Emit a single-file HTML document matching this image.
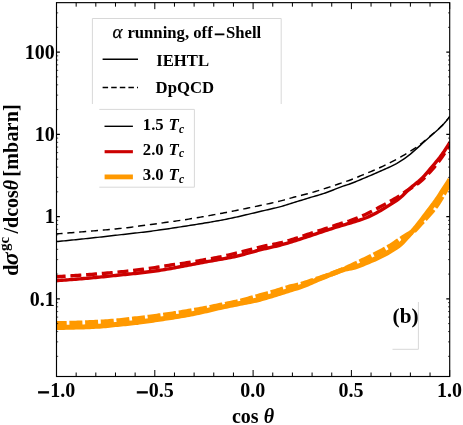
<!DOCTYPE html>
<html lang="en">
<head>
<meta charset="utf-8">
<title>Differential cross section plot (b)</title>
<style>
html,body{margin:0;padding:0;background:#fff;}
body{width:463px;height:425px;overflow:hidden;}
</style>
</head>
<body>
<svg width="463" height="425" viewBox="0 0 463 425" style="display:block">
<rect x="0" y="0" width="463" height="425" fill="#fff"/>
<g fill="none" stroke="#d8d8d8" stroke-width="1">
<path d="M92.4,104 L92.4,18.5 L281.2,18.5 L281.2,104"/>
<path d="M99.3,109.4 L194.4,109.4 L194.4,187.2 L99.3,187.2"/>
<path d="M418.4,302 L418.4,349.3 L392.5,349.3"/>
</g>
<clipPath id="c"><rect x="56.5" y="2.65" width="393.2" height="373.85"/></clipPath>
<g clip-path="url(#c)" fill="none">
<path d="M56.00,327.50 L57.98,327.48 L59.96,327.46 L61.94,327.43 L63.92,327.40 L65.90,327.36 L67.88,327.32 L69.86,327.27 L71.84,327.22 L73.82,327.17 L75.80,327.12 L77.78,327.06 L79.76,327.01 L81.74,326.95 L83.72,326.88 L85.70,326.81 L87.68,326.73 L89.66,326.65 L91.64,326.56 L93.62,326.46 L95.60,326.36 L97.58,326.25 L99.56,326.13 L101.54,325.99 L103.52,325.83 L105.50,325.65 L107.48,325.45 L109.46,325.24 L111.44,325.03 L113.42,324.82 L115.40,324.61 L117.38,324.42 L119.36,324.23 L121.34,324.05 L123.32,323.86 L125.30,323.68 L127.28,323.49 L129.26,323.30 L131.24,323.09 L133.22,322.88 L135.20,322.64 L137.18,322.40 L139.16,322.14 L141.14,321.87 L143.12,321.59 L145.10,321.31 L147.08,321.03 L149.06,320.75 L151.04,320.47 L153.02,320.18 L154.99,319.89 L156.97,319.60 L158.95,319.30 L160.93,319.00 L162.91,318.70 L164.89,318.40 L166.87,318.09 L168.85,317.78 L170.83,317.47 L172.81,317.16 L174.79,316.85 L176.77,316.54 L178.75,316.22 L180.73,315.90 L182.71,315.57 L184.69,315.22 L186.67,314.87 L188.65,314.50 L190.63,314.11 L192.61,313.71 L194.59,313.31 L196.57,312.89 L198.55,312.47 L200.53,312.04 L202.51,311.61 L204.49,311.17 L206.47,310.72 L208.45,310.26 L210.43,309.79 L212.41,309.32 L214.39,308.85 L216.37,308.38 L218.35,307.93 L220.33,307.50 L222.31,307.07 L224.29,306.64 L226.27,306.22 L228.25,305.81 L230.23,305.40 L232.21,304.99 L234.19,304.59 L236.17,304.18 L238.15,303.78 L240.13,303.37 L242.11,302.98 L244.09,302.60 L246.07,302.23 L248.05,301.85 L250.03,301.47 L252.01,301.08 L253.99,300.66 L255.97,300.22 L257.95,299.75 L259.93,299.24 L261.91,298.70 L263.89,298.14 L265.87,297.55 L267.85,296.96 L269.83,296.36 L271.81,295.76 L273.79,295.16 L275.77,294.55 L277.75,293.93 L279.73,293.29 L281.71,292.65 L283.69,292.01 L285.67,291.38 L287.65,290.75 L289.63,290.13 L291.61,289.54 L293.59,288.97 L295.57,288.39 L297.55,287.80 L299.53,287.16 L301.51,286.46 L303.49,285.70 L305.47,284.90 L307.45,284.08 L309.43,283.24 L311.41,282.40 L313.39,281.52 L315.37,280.64 L317.35,279.78 L319.33,278.96 L321.31,278.16 L323.29,277.38 L325.27,276.59 L327.25,275.80 L329.23,275.00 L331.21,274.21 L333.19,273.44 L335.17,272.69 L337.15,271.92 L339.13,271.16 L341.11,270.42 L343.09,269.76 L345.07,269.18 L347.05,268.73 L349.03,268.35 L351.01,267.98 L352.98,267.57 L354.96,267.06 L356.94,266.44 L358.92,265.73 L360.90,264.96 L362.88,264.15 L364.86,263.31 L366.84,262.47 L368.82,261.64 L370.80,260.81 L372.78,259.97 L374.76,259.11 L376.74,258.22 L378.72,257.30 L380.70,256.35 L382.68,255.36 L384.66,254.31 L386.64,253.20 L388.62,252.05 L390.60,250.86 L392.58,249.64 L394.56,248.42 L396.54,247.15 L398.52,245.76 L400.50,244.17 L402.48,242.22 L404.46,240.03 L406.44,237.81 L408.42,235.69 L410.40,233.58 L412.38,231.43 L414.36,229.18 L416.34,226.78 L418.32,224.29 L420.30,221.75 L422.28,219.18 L424.26,216.55 L426.24,213.89 L428.22,211.26 L430.20,208.69 L432.18,206.14 L434.16,203.51 L436.14,200.72 L438.12,197.78 L440.10,194.76 L442.08,191.73 L444.06,188.69 L446.04,185.62 L448.02,182.53 L450.00,179.40" stroke="#ff9900" stroke-width="5"/>
<path d="M56.00,323.60 L57.98,323.57 L59.96,323.54 L61.94,323.50 L63.92,323.45 L65.90,323.41 L67.88,323.36 L69.86,323.31 L71.84,323.25 L73.82,323.19 L75.80,323.13 L77.78,323.07 L79.76,323.01 L81.74,322.94 L83.72,322.87 L85.70,322.79 L87.68,322.71 L89.66,322.62 L91.64,322.53 L93.62,322.44 L95.60,322.34 L97.58,322.23 L99.56,322.12 L101.54,322.01 L103.52,321.89 L105.50,321.76 L107.48,321.62 L109.46,321.47 L111.44,321.32 L113.42,321.16 L115.40,321.00 L117.38,320.82 L119.36,320.63 L121.34,320.43 L123.32,320.22 L125.30,320.00 L127.28,319.77 L129.26,319.54 L131.24,319.30 L133.22,319.08 L135.20,318.84 L137.18,318.61 L139.16,318.37 L141.14,318.13 L143.12,317.89 L145.10,317.65 L147.08,317.40 L149.06,317.14 L151.04,316.89 L153.02,316.63 L154.99,316.37 L156.97,316.11 L158.95,315.85 L160.93,315.58 L162.91,315.31 L164.89,315.03 L166.87,314.75 L168.85,314.47 L170.83,314.18 L172.81,313.88 L174.79,313.58 L176.77,313.27 L178.75,312.96 L180.73,312.64 L182.71,312.32 L184.69,312.00 L186.67,311.67 L188.65,311.34 L190.63,311.01 L192.61,310.67 L194.59,310.32 L196.57,309.97 L198.55,309.62 L200.53,309.26 L202.51,308.89 L204.49,308.52 L206.47,308.13 L208.45,307.74 L210.43,307.34 L212.41,306.94 L214.39,306.53 L216.37,306.12 L218.35,305.72 L220.33,305.31 L222.31,304.91 L224.29,304.52 L226.27,304.12 L228.25,303.73 L230.23,303.33 L232.21,302.92 L234.19,302.50 L236.17,302.07 L238.15,301.63 L240.13,301.17 L242.11,300.68 L244.09,300.17 L246.07,299.63 L248.05,299.08 L250.03,298.53 L252.01,297.96 L253.99,297.40 L255.97,296.85 L257.95,296.30 L259.93,295.76 L261.91,295.21 L263.89,294.67 L265.87,294.12 L267.85,293.57 L269.83,293.01 L271.81,292.45 L273.79,291.87 L275.77,291.27 L277.75,290.64 L279.73,290.01 L281.71,289.38 L283.69,288.76 L285.67,288.15 L287.65,287.58 L289.63,287.04 L291.61,286.55 L293.59,286.11 L295.57,285.67 L297.55,285.22 L299.53,284.73 L301.51,284.17 L303.49,283.56 L305.47,282.91 L307.45,282.25 L309.43,281.59 L311.41,280.94 L313.39,280.30 L315.37,279.65 L317.35,278.98 L319.33,278.32 L321.31,277.64 L323.29,276.96 L325.27,276.26 L327.25,275.55 L329.23,274.83 L331.21,274.09 L333.19,273.34 L335.17,272.58 L337.15,271.81 L339.13,271.02 L341.11,270.22 L343.09,269.41 L345.07,268.57 L347.05,267.71 L349.03,266.83 L351.01,265.93 L352.98,265.01 L354.96,264.10 L356.94,263.18 L358.92,262.26 L360.90,261.32 L362.88,260.38 L364.86,259.43 L366.84,258.47 L368.82,257.49 L370.80,256.51 L372.78,255.52 L374.76,254.51 L376.74,253.50 L378.72,252.46 L380.70,251.41 L382.68,250.35 L384.66,249.26 L386.64,248.16 L388.62,247.03 L390.60,245.86 L392.58,244.63 L394.56,243.29 L396.54,241.89 L398.52,240.50 L400.50,239.17 L402.48,237.91 L404.46,236.68 L406.44,235.45 L408.42,234.25 L410.40,233.12 L412.38,231.91 L414.36,230.46 L416.34,228.55 L418.32,226.32 L420.30,224.06 L422.28,221.95 L424.26,219.90 L426.24,217.82 L428.22,215.65 L430.20,213.43 L432.18,211.14 L434.16,208.70 L436.14,206.02 L438.12,203.07 L440.10,199.92 L442.08,196.67 L444.06,193.31 L446.04,189.81 L448.02,186.17 L450.00,182.40" stroke="#ff9900" stroke-width="5" stroke-dasharray="13.01 2.7" stroke-dashoffset="2.3"/>
<path d="M56.00,280.70 L57.98,280.56 L59.96,280.42 L61.94,280.28 L63.92,280.14 L65.90,279.99 L67.88,279.84 L69.86,279.68 L71.84,279.53 L73.82,279.37 L75.80,279.21 L77.78,279.05 L79.76,278.88 L81.74,278.72 L83.72,278.55 L85.70,278.38 L87.68,278.20 L89.66,278.03 L91.64,277.85 L93.62,277.67 L95.60,277.48 L97.58,277.29 L99.56,277.10 L101.54,276.90 L103.52,276.70 L105.50,276.50 L107.48,276.30 L109.46,276.09 L111.44,275.89 L113.42,275.68 L115.40,275.48 L117.38,275.27 L119.36,275.07 L121.34,274.86 L123.32,274.66 L125.30,274.46 L127.28,274.26 L129.26,274.06 L131.24,273.86 L133.22,273.65 L135.20,273.44 L137.18,273.22 L139.16,273.00 L141.14,272.77 L143.12,272.53 L145.10,272.30 L147.08,272.05 L149.06,271.80 L151.04,271.55 L153.02,271.29 L154.99,271.02 L156.97,270.74 L158.95,270.45 L160.93,270.16 L162.91,269.84 L164.89,269.51 L166.87,269.17 L168.85,268.82 L170.83,268.47 L172.81,268.11 L174.79,267.76 L176.77,267.40 L178.75,267.04 L180.73,266.67 L182.71,266.30 L184.69,265.93 L186.67,265.55 L188.65,265.18 L190.63,264.80 L192.61,264.41 L194.59,264.02 L196.57,263.64 L198.55,263.25 L200.53,262.87 L202.51,262.51 L204.49,262.14 L206.47,261.79 L208.45,261.44 L210.43,261.09 L212.41,260.75 L214.39,260.40 L216.37,260.05 L218.35,259.70 L220.33,259.34 L222.31,258.99 L224.29,258.64 L226.27,258.29 L228.25,257.93 L230.23,257.56 L232.21,257.17 L234.19,256.76 L236.17,256.31 L238.15,255.82 L240.13,255.31 L242.11,254.79 L244.09,254.25 L246.07,253.72 L248.05,253.19 L250.03,252.66 L252.01,252.11 L253.99,251.56 L255.97,251.01 L257.95,250.47 L259.93,249.94 L261.91,249.42 L263.89,248.93 L265.87,248.47 L267.85,248.01 L269.83,247.57 L271.81,247.12 L273.79,246.67 L275.77,246.22 L277.75,245.74 L279.73,245.24 L281.71,244.72 L283.69,244.17 L285.67,243.61 L287.65,243.03 L289.63,242.44 L291.61,241.83 L293.59,241.23 L295.57,240.61 L297.55,239.98 L299.53,239.33 L301.51,238.67 L303.49,238.01 L305.47,237.35 L307.45,236.68 L309.43,236.02 L311.41,235.36 L313.39,234.69 L315.37,234.02 L317.35,233.35 L319.33,232.69 L321.31,232.03 L323.29,231.38 L325.27,230.72 L327.25,230.07 L329.23,229.42 L331.21,228.78 L333.19,228.14 L335.17,227.50 L337.15,226.88 L339.13,226.27 L341.11,225.67 L343.09,225.09 L345.07,224.53 L347.05,223.97 L349.03,223.39 L351.01,222.80 L352.98,222.20 L354.96,221.61 L356.94,221.00 L358.92,220.38 L360.90,219.72 L362.88,219.02 L364.86,218.26 L366.84,217.45 L368.82,216.58 L370.80,215.66 L372.78,214.70 L374.76,213.70 L376.74,212.67 L378.72,211.61 L380.70,210.50 L382.68,209.33 L384.66,208.11 L386.64,206.86 L388.62,205.59 L390.60,204.31 L392.58,203.02 L394.56,201.76 L396.54,200.47 L398.52,199.09 L400.50,197.54 L402.48,195.71 L404.46,193.70 L406.44,191.73 L408.42,189.90 L410.40,188.13 L412.38,186.39 L414.36,184.69 L416.34,183.09 L418.32,181.52 L420.30,179.84 L422.28,177.93 L424.26,175.78 L426.24,173.52 L428.22,171.25 L430.20,168.98 L432.18,166.68 L434.16,164.32 L436.14,161.91 L438.12,159.47 L440.10,156.95 L442.08,154.29 L444.06,151.47 L446.04,148.51 L448.02,145.42 L450.00,142.20" stroke="#cc0000" stroke-width="3.4"/>
<path d="M56.00,276.80 L57.98,276.68 L59.96,276.57 L61.94,276.45 L63.92,276.32 L65.90,276.20 L67.88,276.07 L69.86,275.94 L71.84,275.81 L73.82,275.67 L75.80,275.54 L77.78,275.40 L79.76,275.26 L81.74,275.11 L83.72,274.97 L85.70,274.82 L87.68,274.68 L89.66,274.53 L91.64,274.37 L93.62,274.22 L95.60,274.06 L97.58,273.90 L99.56,273.74 L101.54,273.58 L103.52,273.41 L105.50,273.24 L107.48,273.06 L109.46,272.89 L111.44,272.71 L113.42,272.53 L115.40,272.34 L117.38,272.15 L119.36,271.96 L121.34,271.77 L123.32,271.57 L125.30,271.37 L127.28,271.16 L129.26,270.95 L131.24,270.73 L133.22,270.51 L135.20,270.28 L137.18,270.05 L139.16,269.80 L141.14,269.56 L143.12,269.30 L145.10,269.03 L147.08,268.75 L149.06,268.46 L151.04,268.17 L153.02,267.87 L154.99,267.57 L156.97,267.27 L158.95,266.96 L160.93,266.65 L162.91,266.33 L164.89,266.00 L166.87,265.66 L168.85,265.32 L170.83,265.00 L172.81,264.68 L174.79,264.38 L176.77,264.11 L178.75,263.84 L180.73,263.59 L182.71,263.33 L184.69,263.07 L186.67,262.80 L188.65,262.50 L190.63,262.19 L192.61,261.86 L194.59,261.52 L196.57,261.17 L198.55,260.81 L200.53,260.46 L202.51,260.11 L204.49,259.76 L206.47,259.41 L208.45,259.07 L210.43,258.71 L212.41,258.36 L214.39,257.99 L216.37,257.62 L218.35,257.23 L220.33,256.83 L222.31,256.41 L224.29,255.98 L226.27,255.53 L228.25,255.07 L230.23,254.60 L232.21,254.13 L234.19,253.65 L236.17,253.18 L238.15,252.69 L240.13,252.19 L242.11,251.70 L244.09,251.19 L246.07,250.69 L248.05,250.19 L250.03,249.68 L252.01,249.15 L253.99,248.62 L255.97,248.10 L257.95,247.58 L259.93,247.09 L261.91,246.62 L263.89,246.19 L265.87,245.78 L267.85,245.40 L269.83,245.03 L271.81,244.66 L273.79,244.29 L275.77,243.90 L277.75,243.48 L279.73,243.03 L281.71,242.54 L283.69,242.01 L285.67,241.45 L287.65,240.86 L289.63,240.26 L291.61,239.64 L293.59,239.03 L295.57,238.41 L297.55,237.77 L299.53,237.12 L301.51,236.46 L303.49,235.80 L305.47,235.13 L307.45,234.48 L309.43,233.84 L311.41,233.20 L313.39,232.57 L315.37,231.94 L317.35,231.30 L319.33,230.67 L321.31,230.03 L323.29,229.38 L325.27,228.72 L327.25,228.05 L329.23,227.38 L331.21,226.71 L333.19,226.04 L335.17,225.38 L337.15,224.72 L339.13,224.08 L341.11,223.46 L343.09,222.87 L345.07,222.29 L347.05,221.70 L349.03,221.08 L351.01,220.40 L352.98,219.68 L354.96,218.92 L356.94,218.13 L358.92,217.31 L360.90,216.47 L362.88,215.60 L364.86,214.71 L366.84,213.77 L368.82,212.80 L370.80,211.79 L372.78,210.76 L374.76,209.71 L376.74,208.66 L378.72,207.62 L380.70,206.56 L382.68,205.50 L384.66,204.42 L386.64,203.33 L388.62,202.22 L390.60,201.10 L392.58,199.96 L394.56,198.82 L396.54,197.65 L398.52,196.44 L400.50,195.17 L402.48,193.80 L404.46,192.37 L406.44,190.97 L408.42,189.68 L410.40,188.47 L412.38,187.25 L414.36,185.96 L416.34,184.64 L418.32,183.27 L420.30,181.77 L422.28,180.06 L424.26,178.09 L426.24,175.99 L428.22,173.87 L430.20,171.75 L432.18,169.58 L434.16,167.30 L436.14,164.89 L438.12,162.34 L440.10,159.67 L442.08,156.89 L444.06,153.99 L446.04,150.98 L448.02,147.85 L450.00,144.60" stroke="#cc0000" stroke-width="3.4" stroke-dasharray="10.94 4.8" stroke-dashoffset="1.3"/>
<path d="M56.00,241.60 L57.98,241.42 L59.96,241.23 L61.94,241.04 L63.92,240.85 L65.90,240.66 L67.88,240.46 L69.86,240.27 L71.84,240.07 L73.82,239.88 L75.80,239.68 L77.78,239.47 L79.76,239.27 L81.74,239.07 L83.72,238.86 L85.70,238.65 L87.68,238.45 L89.66,238.24 L91.64,238.02 L93.62,237.81 L95.60,237.59 L97.58,237.37 L99.56,237.15 L101.54,236.93 L103.52,236.70 L105.50,236.48 L107.48,236.25 L109.46,236.02 L111.44,235.79 L113.42,235.56 L115.40,235.33 L117.38,235.10 L119.36,234.87 L121.34,234.65 L123.32,234.42 L125.30,234.20 L127.28,233.98 L129.26,233.75 L131.24,233.53 L133.22,233.31 L135.20,233.08 L137.18,232.86 L139.16,232.63 L141.14,232.39 L143.12,232.16 L145.10,231.92 L147.08,231.67 L149.06,231.42 L151.04,231.17 L153.02,230.90 L154.99,230.64 L156.97,230.37 L158.95,230.09 L160.93,229.81 L162.91,229.53 L164.89,229.24 L166.87,228.95 L168.85,228.66 L170.83,228.36 L172.81,228.06 L174.79,227.76 L176.77,227.46 L178.75,227.15 L180.73,226.85 L182.71,226.54 L184.69,226.23 L186.67,225.92 L188.65,225.61 L190.63,225.30 L192.61,224.99 L194.59,224.68 L196.57,224.36 L198.55,224.05 L200.53,223.73 L202.51,223.41 L204.49,223.08 L206.47,222.76 L208.45,222.43 L210.43,222.09 L212.41,221.75 L214.39,221.41 L216.37,221.06 L218.35,220.70 L220.33,220.34 L222.31,219.97 L224.29,219.59 L226.27,219.20 L228.25,218.80 L230.23,218.40 L232.21,217.98 L234.19,217.56 L236.17,217.12 L238.15,216.68 L240.13,216.22 L242.11,215.75 L244.09,215.28 L246.07,214.81 L248.05,214.34 L250.03,213.86 L252.01,213.40 L253.99,212.93 L255.97,212.47 L257.95,212.01 L259.93,211.54 L261.91,211.08 L263.89,210.61 L265.87,210.14 L267.85,209.68 L269.83,209.21 L271.81,208.75 L273.79,208.30 L275.77,207.84 L277.75,207.37 L279.73,206.87 L281.71,206.33 L283.69,205.75 L285.67,205.14 L287.65,204.52 L289.63,203.88 L291.61,203.25 L293.59,202.63 L295.57,202.02 L297.55,201.41 L299.53,200.80 L301.51,200.19 L303.49,199.58 L305.47,198.97 L307.45,198.37 L309.43,197.77 L311.41,197.18 L313.39,196.61 L315.37,196.03 L317.35,195.46 L319.33,194.87 L321.31,194.26 L323.29,193.64 L325.27,192.98 L327.25,192.28 L329.23,191.54 L331.21,190.78 L333.19,189.99 L335.17,189.20 L337.15,188.41 L339.13,187.63 L341.11,186.88 L343.09,186.17 L345.07,185.51 L347.05,184.89 L349.03,184.24 L351.01,183.53 L352.98,182.78 L354.96,181.99 L356.94,181.18 L358.92,180.35 L360.90,179.51 L362.88,178.67 L364.86,177.84 L366.84,177.00 L368.82,176.16 L370.80,175.32 L372.78,174.47 L374.76,173.61 L376.74,172.74 L378.72,171.87 L380.70,170.99 L382.68,170.12 L384.66,169.26 L386.64,168.39 L388.62,167.50 L390.60,166.59 L392.58,165.63 L394.56,164.63 L396.54,163.56 L398.52,162.40 L400.50,161.17 L402.48,159.88 L404.46,158.53 L406.44,157.12 L408.42,155.63 L410.40,154.08 L412.38,152.41 L414.36,150.66 L416.34,148.89 L418.32,147.12 L420.30,145.34 L422.28,143.54 L424.26,141.77 L426.24,140.01 L428.22,138.26 L430.20,136.51 L432.18,134.76 L434.16,133.04 L436.14,131.30 L438.12,129.49 L440.10,127.60 L442.08,125.63 L444.06,123.53 L446.04,121.27 L448.02,118.86 L450.00,116.30" stroke="#000" stroke-width="1.45"/>
<path d="M56.00,233.90 L57.98,233.75 L59.96,233.61 L61.94,233.46 L63.92,233.30 L65.90,233.15 L67.88,233.00 L69.86,232.84 L71.84,232.69 L73.82,232.53 L75.80,232.37 L77.78,232.21 L79.76,232.05 L81.74,231.89 L83.72,231.73 L85.70,231.56 L87.68,231.40 L89.66,231.23 L91.64,231.06 L93.62,230.90 L95.60,230.73 L97.58,230.56 L99.56,230.40 L101.54,230.23 L103.52,230.06 L105.50,229.89 L107.48,229.71 L109.46,229.53 L111.44,229.35 L113.42,229.16 L115.40,228.97 L117.38,228.77 L119.36,228.57 L121.34,228.36 L123.32,228.13 L125.30,227.90 L127.28,227.66 L129.26,227.41 L131.24,227.16 L133.22,226.90 L135.20,226.63 L137.18,226.37 L139.16,226.09 L141.14,225.82 L143.12,225.55 L145.10,225.27 L147.08,225.00 L149.06,224.73 L151.04,224.46 L153.02,224.19 L154.99,223.92 L156.97,223.66 L158.95,223.39 L160.93,223.12 L162.91,222.85 L164.89,222.58 L166.87,222.30 L168.85,222.03 L170.83,221.75 L172.81,221.47 L174.79,221.19 L176.77,220.90 L178.75,220.61 L180.73,220.32 L182.71,220.03 L184.69,219.73 L186.67,219.42 L188.65,219.11 L190.63,218.80 L192.61,218.48 L194.59,218.15 L196.57,217.82 L198.55,217.49 L200.53,217.15 L202.51,216.81 L204.49,216.46 L206.47,216.10 L208.45,215.75 L210.43,215.39 L212.41,215.03 L214.39,214.66 L216.37,214.29 L218.35,213.92 L220.33,213.55 L222.31,213.17 L224.29,212.80 L226.27,212.42 L228.25,212.04 L230.23,211.66 L232.21,211.27 L234.19,210.88 L236.17,210.48 L238.15,210.08 L240.13,209.67 L242.11,209.26 L244.09,208.85 L246.07,208.44 L248.05,208.02 L250.03,207.61 L252.01,207.20 L253.99,206.79 L255.97,206.37 L257.95,205.96 L259.93,205.55 L261.91,205.13 L263.89,204.71 L265.87,204.29 L267.85,203.86 L269.83,203.43 L271.81,202.99 L273.79,202.55 L275.77,202.11 L277.75,201.65 L279.73,201.17 L281.71,200.66 L283.69,200.12 L285.67,199.56 L287.65,198.99 L289.63,198.42 L291.61,197.86 L293.59,197.31 L295.57,196.79 L297.55,196.28 L299.53,195.79 L301.51,195.30 L303.49,194.81 L305.47,194.31 L307.45,193.80 L309.43,193.26 L311.41,192.70 L313.39,192.12 L315.37,191.54 L317.35,190.93 L319.33,190.32 L321.31,189.70 L323.29,189.06 L325.27,188.42 L327.25,187.77 L329.23,187.12 L331.21,186.46 L333.19,185.80 L335.17,185.13 L337.15,184.47 L339.13,183.80 L341.11,183.13 L343.09,182.47 L345.07,181.81 L347.05,181.14 L349.03,180.45 L351.01,179.72 L352.98,178.96 L354.96,178.17 L356.94,177.36 L358.92,176.53 L360.90,175.70 L362.88,174.87 L364.86,174.04 L366.84,173.22 L368.82,172.41 L370.80,171.59 L372.78,170.76 L374.76,169.92 L376.74,169.06 L378.72,168.18 L380.70,167.27 L382.68,166.34 L384.66,165.39 L386.64,164.41 L388.62,163.42 L390.60,162.40 L392.58,161.37 L394.56,160.33 L396.54,159.27 L398.52,158.17 L400.50,157.05 L402.48,155.92 L404.46,154.79 L406.44,153.65 L408.42,152.47 L410.40,151.25 L412.38,149.97 L414.36,148.65 L416.34,147.27 L418.32,145.82 L420.30,144.29 L422.28,142.70 L424.26,141.09 L426.24,139.45 L428.22,137.77 L430.20,136.08 L432.18,134.40 L434.16,132.75 L436.14,131.06 L438.12,129.29 L440.10,127.41 L442.08,125.44 L444.06,123.33 L446.04,121.07 L448.02,118.66 L450.00,116.10" stroke="#000" stroke-width="1.45" stroke-dasharray="7.1 4.75" stroke-dashoffset="0.5"/>
</g>
<rect x="56.5" y="2.65" width="393.2" height="373.85" fill="none" stroke="#000" stroke-width="1.15"/>
<path d="M56.50,376.5 v-6.5 M56.50,2.65 v6.5 M76.16,376.5 v-4.0 M76.16,2.65 v4.0 M95.82,376.5 v-4.0 M95.82,2.65 v4.0 M115.48,376.5 v-4.0 M115.48,2.65 v4.0 M135.14,376.5 v-4.0 M135.14,2.65 v4.0 M154.80,376.5 v-6.5 M154.80,2.65 v6.5 M174.46,376.5 v-4.0 M174.46,2.65 v4.0 M194.12,376.5 v-4.0 M194.12,2.65 v4.0 M213.78,376.5 v-4.0 M213.78,2.65 v4.0 M233.44,376.5 v-4.0 M233.44,2.65 v4.0 M253.10,376.5 v-6.5 M253.10,2.65 v6.5 M272.76,376.5 v-4.0 M272.76,2.65 v4.0 M292.42,376.5 v-4.0 M292.42,2.65 v4.0 M312.08,376.5 v-4.0 M312.08,2.65 v4.0 M331.74,376.5 v-4.0 M331.74,2.65 v4.0 M351.40,376.5 v-6.5 M351.40,2.65 v6.5 M371.06,376.5 v-4.0 M371.06,2.65 v4.0 M390.72,376.5 v-4.0 M390.72,2.65 v4.0 M410.38,376.5 v-4.0 M410.38,2.65 v4.0 M430.04,376.5 v-4.0 M430.04,2.65 v4.0 M449.70,376.5 v-6.5 M449.70,2.65 v6.5" stroke="#000" stroke-width="1" fill="none"/>
<path d="M56.5,298.85 h3.4 M449.7,298.85 h-3.4 M56.5,216.60 h3.4 M449.7,216.60 h-3.4 M56.5,134.35 h3.4 M449.7,134.35 h-3.4 M56.5,52.10 h3.4 M449.7,52.10 h-3.4" stroke="#000" stroke-width="1.2" fill="none"/>
<path d="M56.5,356.34 h1.7 M449.7,356.34 h-1.7 M56.5,341.86 h1.7 M449.7,341.86 h-1.7 M56.5,331.58 h1.7 M449.7,331.58 h-1.7 M56.5,323.61 h1.7 M449.7,323.61 h-1.7 M56.5,317.10 h1.7 M449.7,317.10 h-1.7 M56.5,311.59 h1.7 M449.7,311.59 h-1.7 M56.5,306.82 h1.7 M449.7,306.82 h-1.7 M56.5,302.61 h1.7 M449.7,302.61 h-1.7 M56.5,274.09 h1.7 M449.7,274.09 h-1.7 M56.5,259.61 h1.7 M449.7,259.61 h-1.7 M56.5,249.33 h1.7 M449.7,249.33 h-1.7 M56.5,241.36 h1.7 M449.7,241.36 h-1.7 M56.5,234.85 h1.7 M449.7,234.85 h-1.7 M56.5,229.34 h1.7 M449.7,229.34 h-1.7 M56.5,224.57 h1.7 M449.7,224.57 h-1.7 M56.5,220.36 h1.7 M449.7,220.36 h-1.7 M56.5,191.84 h1.7 M449.7,191.84 h-1.7 M56.5,177.36 h1.7 M449.7,177.36 h-1.7 M56.5,167.08 h1.7 M449.7,167.08 h-1.7 M56.5,159.11 h1.7 M449.7,159.11 h-1.7 M56.5,152.60 h1.7 M449.7,152.60 h-1.7 M56.5,147.09 h1.7 M449.7,147.09 h-1.7 M56.5,142.32 h1.7 M449.7,142.32 h-1.7 M56.5,138.11 h1.7 M449.7,138.11 h-1.7 M56.5,109.59 h1.7 M449.7,109.59 h-1.7 M56.5,95.11 h1.7 M449.7,95.11 h-1.7 M56.5,84.83 h1.7 M449.7,84.83 h-1.7 M56.5,76.86 h1.7 M449.7,76.86 h-1.7 M56.5,70.35 h1.7 M449.7,70.35 h-1.7 M56.5,64.84 h1.7 M449.7,64.84 h-1.7 M56.5,60.07 h1.7 M449.7,60.07 h-1.7 M56.5,55.86 h1.7 M449.7,55.86 h-1.7 M56.5,27.34 h1.7 M449.7,27.34 h-1.7 M56.5,12.86 h1.7 M449.7,12.86 h-1.7" stroke="#000" stroke-width="0.7" fill="none"/>
<path d="M102.6,59.3 H138" stroke="#000" stroke-width="1.45"/>
<path d="M102.6,87.4 H138" stroke="#000" stroke-width="1.45" stroke-dasharray="5.5 3.1"/>
<path d="M104.5,126.3 H132.9" stroke="#000" stroke-width="1.4"/>
<path d="M104.6,151.7 H132.9" stroke="#cc0000" stroke-width="3.1"/>
<path d="M104.6,176.9 H132.9" stroke="#ff9900" stroke-width="4.8"/>
<g font-family="'Liberation Serif', 'Times New Roman', serif" font-weight="bold" fill="#000">
<text x="252.8" y="397" font-size="20" text-anchor="middle">0.0</text>
<text x="351.1" y="397" font-size="20" text-anchor="middle">0.5</text>
<text x="449.4" y="397" font-size="20" text-anchor="middle">1.0</text>
<text y="397" font-size="20"><tspan x="37.3" dy="1.6" textLength="12.6" lengthAdjust="spacingAndGlyphs" stroke="#000" stroke-width="0.7">−</tspan><tspan x="50.3" dy="-1.6">1.0</tspan></text>
<text y="397" font-size="20"><tspan x="136.0" dy="1.6" textLength="12.6" lengthAdjust="spacingAndGlyphs" stroke="#000" stroke-width="0.7">−</tspan><tspan x="148.8" dy="-1.6">0.5</tspan></text>
<text x="54.7" y="58.7" font-size="20" text-anchor="end">100</text>
<text x="54.7" y="140.9" font-size="20" text-anchor="end">10</text>
<text x="54.7" y="223.2" font-size="20" text-anchor="end">1</text>
<text x="54.7" y="305.5" font-size="20" text-anchor="end">0.1</text>
<text x="253" y="422.8" font-size="20" text-anchor="middle">cos <tspan font-style="italic">θ</tspan></text>
<text transform="translate(17.6,275.8) rotate(-90)" font-size="20">d<tspan font-style="italic" font-size="24" dx="-0.5">σ</tspan><tspan font-size="15" dy="-9" dx="1.2">gc</tspan><tspan dy="9" dx="3.4">/dcos</tspan><tspan font-style="italic">θ</tspan><tspan dx="-2.1" letter-spacing="0.2"> [mbarn]</tspan></text>
<text x="112.6" y="38.4" font-size="16.7"><tspan font-style="italic" font-weight="normal" font-size="19" stroke="#000" stroke-width="0.25">α</tspan> <tspan x="127.4">running, off</tspan><tspan x="214" dy="1.2" textLength="11" lengthAdjust="spacingAndGlyphs" stroke="#000" stroke-width="0.6">−</tspan><tspan x="226" dy="-1.2">Shell</tspan></text>
<text x="156.2" y="65.7" font-size="16.7">IEHTL</text>
<text x="155.6" y="92.6" font-size="16.7">DpQCD</text>
<text x="142.8" y="130.2" font-size="16.7">1.5 <tspan x="168.6" font-style="italic">T</tspan><tspan font-style="italic" font-size="11.5" dy="2.6" dx="0.3">c</tspan></text>
<text x="142.8" y="154.8" font-size="16.7">2.0 <tspan x="168.6" font-style="italic">T</tspan><tspan font-style="italic" font-size="11.5" dy="2.6" dx="0.3">c</tspan></text>
<text x="142.8" y="179.9" font-size="16.7">3.0 <tspan x="168.6" font-style="italic">T</tspan><tspan font-style="italic" font-size="11.5" dy="2.6" dx="0.3">c</tspan></text>
<text transform="translate(392.6,322.8) scale(1.05,1)" font-size="20.2">(b)</text>
</g>
</svg>
</body>
</html>
